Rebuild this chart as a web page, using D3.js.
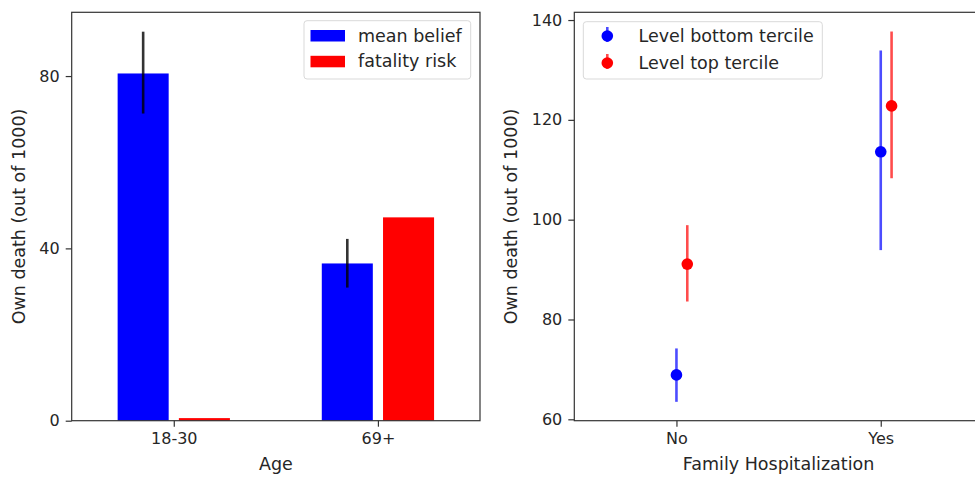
<!DOCTYPE html>
<meta charset="utf-8">
<script src="https://d3js.org/d3.v7.min.js"></script>
<style>
  body { margin: 0; background: #fff; }
  text { font-family: "DejaVu Sans", sans-serif; fill: #262626; }
</style>
<svg id="chart" width="975" height="480"></svg>
<script>
    // left panel data
    var ages = ["18-30", "69+"];
    var meanBelief = [80.6, 36.5];
    var meanBeliefLo = [71.3, 30.9];
    var meanBeliefHi = [90.3, 42.2];
    var fatalityRisk = [0.6, 47.2];
    var leftTicks = [0, 40, 80];

    // right panel data
    var hosp = ["No", "Yes"];
    var bottomMean = [68.9, 113.6];
    var bottomLo = [63.5, 93.9];
    var bottomHi = [74.2, 133.9];
    var topMean = [91.1, 122.8];
    var topLo = [83.6, 108.3];
    var topHi = [98.9, 137.7];
    var rightTicks = [60, 80, 100, 120, 140];

    var svg = d3.select("#chart");
    var fs = 16;     // tick labels
    var lfs = 17.5;  // axis labels and legend

    function frame(g, x0, x1, y0, y1) {
        g.append("rect")
            .attr("x", x0).attr("y", y0)
            .attr("width", x1 - x0).attr("height", y1 - y0)
            .attr("fill", "none")
            .attr("stroke", "#333")
            .attr("stroke-width", 1.2);
    }

    function styleAxis(g) {
        g.select(".domain").remove();
        g.selectAll(".tick line").attr("stroke", "#333").attr("stroke-width", 1.2);
        g.selectAll(".tick text").style("font-size", fs + "px").attr("fill", "#262626");
    }

    // ---------- left panel ----------
    var L = {x0: 71.7, x1: 480, y0: 12.3, y1: 420.7};
    var xL = d3.scaleLinear().domain([-0.5, 1.5]).range([L.x0, L.x1]);
    var yL = d3.scaleLinear().domain([0, 94.8]).range([L.y1, L.y0]);
    var gL = svg.append("g");

    gL.selectAll("rect.blue")
        .data(meanBelief)
        .enter().append("rect")
        .attr("x", (d, i) => xL(i - 0.15 - 0.125))
        .attr("width", xL(0.25) - xL(0))
        .attr("y", d => yL(d))
        .attr("height", d => yL(0) - yL(d))
        .attr("fill", "#0000ff");

    gL.selectAll("rect.red")
        .data(fatalityRisk)
        .enter().append("rect")
        .attr("x", (d, i) => xL(i + 0.15 - 0.125))
        .attr("width", xL(0.25) - xL(0))
        .attr("y", d => yL(d))
        .attr("height", d => yL(0) - yL(d))
        .attr("fill", "#ff0000");

    gL.selectAll("line.err")
        .data(meanBelief)
        .enter().append("line")
        .attr("x1", (d, i) => xL(i - 0.15))
        .attr("x2", (d, i) => xL(i - 0.15))
        .attr("y1", (d, i) => yL(meanBeliefLo[i]))
        .attr("y2", (d, i) => yL(meanBeliefHi[i]))
        .attr("stroke", "#000")
        .attr("stroke-opacity", 0.8)
        .attr("stroke-width", 2.6);

    frame(gL, L.x0, L.x1, L.y0, L.y1);

    gL.append("g")
        .attr("transform", "translate(" + L.x0 + ",0)")
        .call(d3.axisLeft(yL).tickValues(leftTicks).tickSize(6).tickPadding(6))
        .call(styleAxis);

    gL.append("g")
        .attr("transform", "translate(0," + L.y1 + ")")
        .call(d3.axisBottom(xL).tickValues([0, 1]).tickFormat(i => ages[i]).tickSize(6).tickPadding(6))
        .call(styleAxis);

    gL.append("text")
        .attr("transform", "translate(24.5," + ((L.y0 + L.y1) / 2) + ") rotate(-90)")
        .attr("text-anchor", "middle")
        .style("font-size", lfs + "px")
        .text("Own death (out of 1000)");

    gL.append("text")
        .attr("x", (L.x0 + L.x1) / 2).attr("y", 469.5)
        .attr("text-anchor", "middle")
        .style("font-size", lfs + "px")
        .text("Age");

    // left legend
    var legL = gL.append("g");
    legL.append("rect")
        .attr("x", 304).attr("y", 20.7).attr("width", 166.7).attr("height", 58.3)
        .attr("rx", 3).attr("fill", "#fff").attr("fill-opacity", 0.8)
        .attr("stroke", "#d9d9d9");
    var legItemsL = [["mean belief", "#0000ff"], ["fatality risk", "#ff0000"]];
    legItemsL.forEach(function (d, i) {
        legL.append("rect")
            .attr("x", 310.5).attr("y", 30 + i * 25.8).attr("width", 34.5).attr("height", 11.5)
            .attr("fill", d[1]);
        legL.append("text")
            .attr("x", 358).attr("y", 41.5 + i * 25.8)
            .style("font-size", lfs + "px")
            .text(d[0]);
    });

    // ---------- right panel ----------
    var R = {x0: 574.3, x1: 982.9, y0: 12.3, y1: 420.7};
    var xR = d3.scaleLinear().domain([-0.5, 1.5]).range([R.x0, R.x1]);
    var yR = d3.scaleLinear().domain([59.72, 141.55]).range([R.y1, R.y0]);
    var gR = svg.append("g");

    var series = [
        {name: "Level bottom tercile", color: "#0000ff", off: 0, mean: bottomMean, lo: bottomLo, hi: bottomHi},
        {name: "Level top tercile", color: "#ff0000", off: 0.053, mean: topMean, lo: topLo, hi: topHi}
    ];

    series.forEach(function (s) {
        gR.selectAll(null)
            .data(s.mean)
            .enter().append("line")
            .attr("x1", (d, i) => xR(i + s.off))
            .attr("x2", (d, i) => xR(i + s.off))
            .attr("y1", (d, i) => yR(s.lo[i]))
            .attr("y2", (d, i) => yR(s.hi[i]))
            .attr("stroke", s.color)
            .attr("stroke-opacity", 0.7)
            .attr("stroke-width", 2.6);
        gR.selectAll(null)
            .data(s.mean)
            .enter().append("circle")
            .attr("cx", (d, i) => xR(i + s.off))
            .attr("cy", d => yR(d))
            .attr("r", 5.8)
            .attr("fill", s.color);
    });

    frame(gR, R.x0, R.x1, R.y0, R.y1);

    gR.append("g")
        .attr("transform", "translate(" + R.x0 + ",0)")
        .call(d3.axisLeft(yR).tickValues(rightTicks).tickSize(6).tickPadding(6))
        .call(styleAxis);

    gR.append("g")
        .attr("transform", "translate(0," + R.y1 + ")")
        .call(d3.axisBottom(xR).tickValues([0, 1]).tickFormat(i => hosp[i]).tickSize(6).tickPadding(6))
        .call(styleAxis);

    gR.append("text")
        .attr("transform", "translate(516.5," + ((R.y0 + R.y1) / 2) + ") rotate(-90)")
        .attr("text-anchor", "middle")
        .style("font-size", lfs + "px")
        .text("Own death (out of 1000)");

    gR.append("text")
        .attr("x", (R.x0 + R.x1) / 2).attr("y", 469.5)
        .attr("text-anchor", "middle")
        .style("font-size", lfs + "px")
        .text("Family Hospitalization");

    // right legend
    var legR = gR.append("g");
    legR.append("rect")
        .attr("x", 583.3).attr("y", 21.7).attr("width", 239).attr("height", 57.3)
        .attr("rx", 3).attr("fill", "#fff").attr("fill-opacity", 0.8)
        .attr("stroke", "#d9d9d9");
    series.forEach(function (s, i) {
        var cy = 36 + i * 27;
        legR.append("line")
            .attr("x1", 607.3).attr("x2", 607.3)
            .attr("y1", cy - 9).attr("y2", cy + 6)
            .attr("stroke", s.color).attr("stroke-opacity", 0.7).attr("stroke-width", 2.6);
        legR.append("circle")
            .attr("cx", 607.3).attr("cy", cy).attr("r", 5.8).attr("fill", s.color);
        legR.append("text")
            .attr("x", 638.5).attr("y", cy + 6)
            .style("font-size", lfs + "px")
            .text(s.name);
    });
</script>
